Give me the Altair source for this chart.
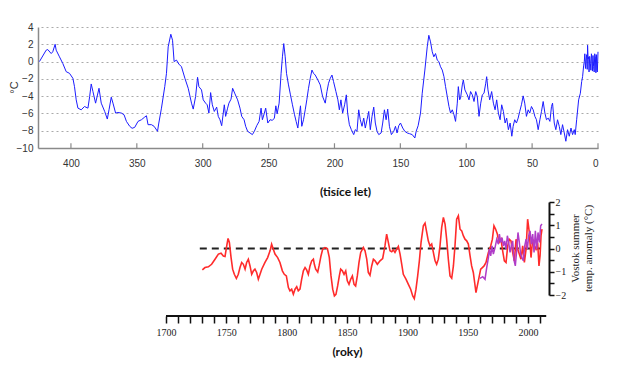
import altair as alt
import pandas as pd

# ---------------- top panel: Vostok record, thousands of years ----------------
kyr = [423.9, 418.8, 417.6, 415.0, 413.8, 412.0, 411.2, 408.7, 406.2, 403.6, 401.1, 398.5, 397.3, 396.0,
       394.7, 392.2, 389.7, 387.1, 385.8, 384.6, 383.3, 381.3, 378.7, 377.0, 374.4, 372.4, 371.1, 369.4,
       368.1, 366.1, 364.3, 361.7, 359.7, 357.9, 355.4, 353.6, 351.6, 349.1, 346.5, 344.0, 342.7, 341.5,
       338.9, 336.9, 334.3, 333.3, 331.3, 328.8, 327.5, 326.2, 324.2, 322.9, 321.7, 319.9, 318.1,
       316.1, 313.5, 311.0, 308.5, 307.2, 305.4, 303.9, 302.9, 300.9, 299.6, 297.8, 296.6, 295.3, 294.0,
       292.7, 291.2, 289.4, 288.2, 286.9, 285.6, 283.6, 282.6, 281.1, 280.1, 278.5, 277.3, 275.5, 273.5,
       271.7, 270.4, 268.6, 267.4, 265.9, 264.1, 262.3, 260.8, 259.0, 257.2, 255.7, 254.7, 253.2, 252.2,
       250.6, 248.9, 247.1, 245.6, 244.5, 243.5, 242.0, 240.5, 239.5, 238.5, 237.4, 236.4, 234.9, 233.4,
       231.9, 230.3, 229.1, 227.8, 226.8, 225.8, 224.8, 223.5, 222.2, 221.0, 219.7, 218.4, 217.1, 215.9,
       214.6, 212.6, 210.8, 209.0, 207.0, 205.7, 204.5, 203.2, 201.9, 200.7, 198.9, 197.4, 196.3, 195.1,
       193.8, 192.3, 191.0, 190.0, 188.7, 187.2, 185.4, 184.2, 182.9, 181.6, 180.4, 179.1, 177.8, 176.6,
       175.3, 174.0, 172.8, 171.5, 170.2, 169.0, 167.7, 166.4, 164.6, 163.4, 162.1, 160.8, 159.6, 158.3,
       156.8, 155.0, 153.7, 152.5, 151.2, 149.9, 148.2, 146.6, 144.8, 143.1, 141.0, 139.0, 138.0, 136.5,
       134.7, 133.4, 131.4, 129.6, 128.4, 127.1, 125.8, 124.6, 123.3, 122.0, 120.8, 119.5, 118.2, 116.9,
       115.7, 114.4, 113.1, 111.9, 110.6, 109.3, 108.1, 106.8, 106.0, 105.0, 104.3, 103.0, 102.2, 101.0,
       99.2, 97.9, 96.7, 95.4, 94.1, 92.8, 91.6, 90.3, 89.0, 87.8, 86.5, 85.2, 84.5, 83.5, 82.2, 80.7,
       79.4, 78.1, 76.9, 75.6, 74.3, 73.1, 71.8, 70.5, 69.3, 68.0, 66.7, 65.4, 64.4, 63.2, 61.9, 60.6,
       59.4, 58.1, 56.8, 55.6, 54.3, 53.0, 51.8, 50.5, 49.2, 47.9, 46.7, 45.4, 44.1, 42.9, 41.6, 40.3,
       39.1, 37.8, 36.5, 35.3, 34.5, 33.2, 32.0, 30.7, 29.4, 28.2, 26.9, 25.6, 24.4, 23.1, 21.8, 20.5,
       19.3, 18.0, 17.3, 16.2, 14.7, 13.4, 12.4, 11.7, 10.9, 10.4, 10.0, 9.5, 9.1, 8.6, 8.2, 7.9, 7.5,
       7.1, 6.8, 6.3, 5.8, 5.4, 5.0, 4.6, 4.2, 3.8, 3.3, 2.9, 2.5, 2.0, 1.6, 1.2, 0.8, 0.5, 0.0]
temp = [0.0, 1.32, 1.39, 0.93, 1.13, 2.0, 1.32, 0.55, -0.21, -1.17, -1.36, -1.94, -2.9, -4.43,
        -5.39, -5.58, -5.2, -5.39, -4.05, -2.59, -3.47, -4.81, -3.09, -4.81, -5.77, -6.65, -5.58, -4.12,
        -4.81, -5.96, -5.89, -5.96, -6.15, -6.92, -7.49, -7.72, -7.61, -6.92, -6.73, -6.42, -6.27, -7.3,
        -7.3, -7.49, -8.07, -7.11, -5.39, -2.9, -1.36, 1.7, 3.16, 2.47, 0.0, 0.17, -0.29,
        -0.6, -1.94, -3.09, -4.81, -5.5, -4.05, -1.82, -2.9, -3.28, -4.43, -4.81, -5.0, -5.96, -3.59,
        -5.0, -5.77, -5.27, -6.34, -6.73, -7.42, -5.0, -6.34, -5.39, -4.81, -4.35, -3.09, -3.74, -4.43,
        -5.39, -6.34, -6.73, -7.49, -8.07, -8.26, -8.45, -8.07, -7.42, -6.92, -5.39, -6.73, -5.96, -5.39,
        -7.11, -6.73, -6.8, -6.54, -5.12, -6.04, -4.81, -1.36, 0.55, 2.08, 0.55, -1.36, -2.7, -3.85,
        -5.0, -6.15, -6.92, -7.69, -6.34, -5.12, -7.49, -6.73, -5.58, -4.43, -3.09, -1.94, -0.98, -1.36,
        -1.56, -2.13, -2.7, -4.05, -4.81, -3.47, -2.51, -1.94, -1.56, -2.32, -3.47, -4.43, -5.58, -4.43,
        -5.96, -5.0, -3.85, -5.96, -7.3, -7.88, -8.45, -7.88, -8.07, -5.58, -6.73, -7.49, -6.54, -7.69,
        -6.73, -5.77, -7.88, -6.34, -5.27, -7.11, -8.07, -8.45, -8.26, -7.11, -5.58, -6.73, -5.5, -7.49,
        -8.45, -8.07, -7.49, -8.26, -7.42, -7.11, -7.69, -8.07, -8.26, -8.34, -8.45, -8.84, -8.07, -7.42,
        -5.96, -3.66, -0.98, 1.7, 3.04, 2.28, 1.13, 0.55, 0.93, 0.17, 0.0, -0.6, -0.98, -1.75,
        -2.9, -4.05, -5.2, -5.96, -5.58, -6.15, -6.92, -4.81, -2.9, -4.43, -4.24, -2.7, -2.13, -3.28,
        -3.85, -4.43, -3.47, -3.85, -4.62, -3.47, -4.05, -6.34, -4.81, -3.85, -3.66, -2.51, -1.75, -3.28, -4.43, -3.47,
        -4.81, -5.58, -4.43, -5.96, -6.73, -5.0, -5.77, -7.11, -6.54, -7.88, -7.11, -8.64, -7.49, -6.73, -7.11, -6.54,
        -5.77, -5.0, -3.97, -4.81, -6.34, -5.58, -5.96, -5.2, -5.58, -6.34, -6.73, -7.88, -6.73, -5.77, -4.62, -5.96,
        -6.73, -6.54, -6.92, -5.2, -4.81, -7.11, -7.88, -6.73, -7.49, -8.45, -7.3, -8.26, -9.22, -7.88, -8.64, -7.69,
        -8.45, -7.88, -8.45, -6.73, -4.43, -3.66, -2.32, -1.75, -0.5, 0.0, 0.9, -0.8, 0.17, 0.8, -0.9, 1.89, 0.3,
        0.55, -1.2, 0.6, -0.21, -1.0, 0.9, 0.36, -1.1, 0.7, -0.6, -1.2, 0.9, 0.55, -1.3, 0.8, -0.98, -1.2, 1.13]
top_x_ticks = [400, 350, 300, 250, 200, 150, 100, 50, 0]
top_y_ticks = [-10, -8, -6, -4, -2, 0, 2, 4]

# ---------------- bottom panel: Vostok summer anomaly, years ----------------
red_year = [1730.1, 1732.3, 1735.1, 1737.8, 1740.6, 1743.4, 1745.6, 1747.5, 1748.9, 1750.3, 1751.4, 1752.5,
            1753.9, 1755.2, 1756.6, 1758.3, 1759.9, 1761.3, 1762.7, 1764.1, 1765.5, 1766.8, 1768.2, 1769.6,
            1771.0, 1772.4, 1773.7, 1775.1, 1776.5, 1777.9, 1779.3, 1782.0, 1784.2, 1786.2, 1787.5, 1788.9,
            1790.3, 1792.5, 1794.4, 1796.4, 1798.0, 1799.7, 1801.4, 1802.7, 1804.1, 1805.5, 1806.9, 1808.3,
            1809.6, 1811.0, 1812.4, 1813.8, 1815.2, 1816.5, 1817.9, 1819.3, 1820.7, 1822.1, 1822.9, 1824.0,
            1825.7, 1826.8, 1828.4, 1829.8, 1831.7, 1833.7, 1835.3, 1836.7, 1838.1, 1839.5, 1840.8, 1842.2,
            1843.6, 1844.7, 1846.1, 1847.5, 1848.9, 1850.2, 1851.6, 1853.0, 1854.4, 1855.8, 1857.1, 1858.5,
            1859.9, 1861.3, 1863.5, 1864.9, 1866.3, 1867.6, 1869.0, 1870.4, 1871.8, 1873.2,
            1875.1, 1877.3, 1879.5, 1881.4, 1882.8, 1884.2, 1885.6, 1887.0, 1888.3, 1889.7, 1891.1, 1892.5,
            1893.9, 1895.3, 1896.6, 1898.8, 1900.8, 1902.7, 1904.4, 1905.7, 1907.1, 1908.5, 1909.9, 1911.3,
            1913.2, 1914.6, 1916.0, 1917.3, 1918.7, 1920.1, 1921.5, 1922.9, 1924.2, 1925.6, 1927.0, 1928.4,
            1929.8, 1931.2, 1932.5, 1933.9, 1935.3, 1936.7, 1938.1, 1939.4, 1940.8, 1942.2, 1943.6, 1945.0,
            1946.3, 1947.7, 1949.1, 1950.5, 1951.9, 1953.2, 1954.6, 1956.0, 1956.8, 1957.9, 1959.3, 1960.7,
            1962.1, 1963.5, 1965.1, 1967.1, 1969.0, 1970.4, 1971.7, 1973.1, 1974.5, 1975.9, 1977.5, 1978.9,
            1980.3, 1981.7, 1983.1, 1984.4, 1985.8, 1987.2, 1988.6, 1990.0, 1991.4, 1992.7, 1994.1, 1995.5,
            1996.9, 1998.3, 1999.6, 2001.0, 2002.4, 2003.8, 2005.2, 2006.5, 2007.9, 2009.0, 2009.9, 2010.7,
            2011.5]
red_anom = [-0.92, -0.82, -0.79, -0.68, -0.46, -0.24, -0.2, -0.32, -0.34, 0.11, 0.43, 0.26,
            -0.39, -0.89, -1.11, -1.29, -1.11, -0.82, -0.6, -0.68, -0.89, -0.6, -0.46, -0.75,
            -1.11, -0.96, -0.89, -1.03, -1.32, -1.11, -0.89, -0.6, -0.39, -0.1, 0.19, -0.03,
            -0.24, -0.39, -0.6, -0.96, -1.11, -1.18, -1.68, -1.82, -1.75, -1.97, -1.75, -1.64,
            -1.82, -1.75, -1.32, -0.96, -0.82, -0.92, -1.11, -0.75, -0.53, -0.46, -0.68, -0.89,
            -1.01, -0.75, -0.32, -0.03, 0.04, 0.0, -0.39, -1.18, -1.75, -2.04, -1.97, -1.61,
            -1.18, -0.89, -0.96, -1.11, -0.96, -1.39, -1.54, -1.32, -1.18, -1.54, -1.61, -1.18,
            -0.6, -0.17, 0.04, -0.1, -0.46, -1.03, -1.15, -0.75, -0.46, -0.53,
            -0.68, -0.53, -0.43, 0.11, 0.62, 0.26, -0.1, -0.14, -0.06, -0.17, -0.03, 0.09,
            -0.24, -0.68, -1.11, -1.32, -1.54, -1.75, -2.04, -2.16, -1.75, -1.18, -0.53, 0.26,
            0.98, 1.09, 0.69, 0.33, 0.11, 0.19, -0.17, -0.53, -0.68, -0.46, 0.11, 0.91,
            1.34, 1.05, 0.4, -0.46, -1.18, -1.28, -0.75, 0.11, 1.26, 1.41, 0.83, 0.76,
            0.55, 0.4, 0.33, 0.19, -0.32, -0.75, -1.03, -1.58, -1.9, -1.61, -1.25, -0.89,
            -0.82, -0.75, -0.6, -0.17, 0.11, 0.4, 0.98, 0.83, 0.62, 0.26, 0.4, -0.1,
            -0.53, -0.6, 0.11, 0.4, 0.33, -0.17, -0.53, 0.4, -0.03, -0.24, -0.46, 0.11,
            -0.6, -0.03, 1.26, 0.69, -0.39, 0.4, 0.11, -0.03, 0.26, -0.75, -0.3, 0.55,
            0.83]
purple_year = [1960.1, 1962.4, 1964.3, 1965.7, 1967.1, 1967.9, 1969.0, 1970.1, 1971.2, 1972.6, 1974.0,
               1975.3, 1976.2, 1977.3, 1978.4, 1979.5, 1980.6, 1981.7, 1982.8, 1983.9, 1985.0, 1986.1,
               1987.2, 1988.3, 1989.4, 1990.5, 1991.6, 1992.7, 1993.8, 1994.9, 1996.0, 1997.2, 1998.3,
               1999.4, 2000.5, 2001.6, 2002.7, 2003.8, 2004.9, 2006.0, 2007.1, 2008.2, 2009.3, 2010.4,
               2011.5]
purple_anom = [-1.29, -1.21, -1.32, -0.82, -0.39, -0.03, -0.32, 0.11, -0.24, 0.04, 0.4,
               0.19, 0.62, 0.26, 0.47, 0.11, 0.33, -0.03, 0.55, 0.26, -0.17, 0.11,
               0.33, -0.5, -0.75, -0.1, 0.69, 0.26, -0.24, -0.39, -0.53, 0.11, 0.4,
               -0.03, 0.55, 0.76, 0.19, 0.62, -0.17, 0.76, -0.03, 0.69, 0.26, 0.98,
               1.05]
bottom_x_ticks = list(range(1700, 2011, 10))
bottom_y_ticks = [-2, -1.5, -1, -0.5, 0, 0.5, 1, 1.5, 2]
zero_line_span = [1728, 2010]
axis_line_span = [1700, 2015]

SANS = "Liberation Sans"
SERIF = "Liberation Serif"

# ---------------- top chart ----------------
top_df = pd.DataFrame({"kyr": kyr, "temp": temp})
tick_df = pd.DataFrame({"kyr": top_x_ticks})

xs_top = alt.Scale(domain=[0, 425], reverse=True, nice=False, zero=False)
ys_top = alt.Scale(domain=[-10, 4], nice=False)

ax_top_x = alt.Axis(values=top_x_ticks, ticks=False, grid=False, domainColor="#8a8a8a",
                    domainWidth=1.5, labelFont=SANS, labelFontSize=10, labelColor="#333",
                    labelOverlap=False, labelPadding=10, title="(tisíce let)", titleFont="Lato",
                    titleFontSize=12, titleFontWeight="bold", titleColor="#111",
                    titleX=307, titleY=43, titleAlign="center", titleBaseline="middle")
ax_top_y = alt.Axis(values=top_y_ticks, ticks=False, grid=True, gridColor="#aaaaaa",
                    gridDash=[2, 3], gridWidth=1, domainColor="#8a8a8a", domainWidth=1.5,
                    labelFont=SANS, labelFontSize=10, labelColor="#333", labelPadding=5,
                    labelOverlap=False,
                    title="°C", titleFont=SANS, titleFontSize=11, titleFontWeight="normal",
                    titleColor="#333", titleX=-24, titleY=60, titleAlign="center",
                    titleBaseline="middle")

blue = alt.Chart(top_df).mark_line(color="#1c1cff", strokeWidth=1).encode(
    x=alt.X("kyr:Q", scale=xs_top, axis=ax_top_x),
    y=alt.Y("temp:Q", scale=ys_top, axis=ax_top_y),
)
top_ticks = alt.Chart(tick_df).mark_rule(color="#8a8a8a", strokeWidth=1.2).encode(
    x=alt.X("kyr:Q", scale=xs_top, axis=ax_top_x),
    y=alt.YDatum(-10, scale=ys_top, axis=ax_top_y),
    y2=alt.datum(-9.45),
)
top = alt.layer(blue, top_ticks).properties(width=560, height=121)

# ---------------- bottom chart ----------------
red_df = pd.DataFrame({"year": red_year, "anom": red_anom})
pur_df = pd.DataFrame({"year": purple_year, "anom": purple_anom})

xs_bot = alt.Scale(domain=[1593.95, 2017.3], nice=False, zero=False)
ys_bot = alt.Scale(domain=[-2, 2], nice=False)

ax_bot_x = alt.Axis(values=bottom_x_ticks, domain=False, grid=False, offset=21,
                    tickSize=7, tickColor="#111", tickWidth=1.5, labelOverlap=False,
                    labelExpr="datum.value % 50 == 0 ? datum.label : ''",
                    format="d", labelFont=SERIF, labelFontSize=10, labelColor="#222",
                    labelPadding=4, title="(roky)", titleFont="Lato", titleFontSize=12,
                    titleFontWeight="bold", titleColor="#111", titleX=309, titleY=35,
                    titleAlign="center", titleBaseline="middle")
ax_bot_y = alt.Axis(orient="right", values=bottom_y_ticks, grid=False, domainColor="#111",
                    domainWidth=2, tickColor="#111", tickWidth=1.5, tickSize=5,
                    labelOverlap=False,
                    labelExpr="datum.value % 1 == 0 ? format(datum.value, 'd') : ''",
                    labelFont=SERIF, labelFontSize=10, labelColor="#222", labelPadding=1,
                    title=["Vostok summer", "temp. anomaly (°C)"], titleFont=SERIF,
                    titleFontSize=11, titleFontWeight="normal", titleColor="#222",
                    titleAngle=270, titleX=26, titleY=46, titleAlign="center",
                    titleBaseline="middle")

red = alt.Chart(red_df).mark_line(color="#ff2b2b", strokeWidth=1.6).encode(
    x=alt.X("year:Q", scale=xs_bot, axis=ax_bot_x),
    y=alt.Y("anom:Q", scale=ys_bot, axis=ax_bot_y),
)
zero_line = alt.Chart().mark_rule(color="#222", strokeWidth=1.8, strokeDash=[7, 5]).encode(
    x=alt.XDatum(zero_line_span[0], scale=xs_bot, axis=ax_bot_x),
    x2=alt.datum(zero_line_span[1]),
    y=alt.YDatum(0, scale=ys_bot, axis=ax_bot_y),
)
purple = alt.Chart(pur_df).mark_line(color="#b03cc8", strokeWidth=1.5).encode(
    x=alt.X("year:Q", scale=xs_bot, axis=ax_bot_x),
    y=alt.Y("anom:Q", scale=ys_bot, axis=ax_bot_y),
)
axis_line = alt.Chart().mark_rule(color="#111", strokeWidth=2).encode(
    x=alt.XDatum(axis_line_span[0], scale=xs_bot, axis=ax_bot_x),
    x2=alt.datum(axis_line_span[1]),
    y=alt.value(114),
)
bottom = alt.layer(zero_line, red, purple, axis_line).properties(width=511, height=93)

chart = alt.vconcat(top, bottom, spacing=0).properties(
    padding={"left": 0, "top": 14, "right": 5, "bottom": 5},
    background="white",
).configure_view(stroke=None)

chart.save("out.html", embed_options={"renderer": "svg", "actions": False})
